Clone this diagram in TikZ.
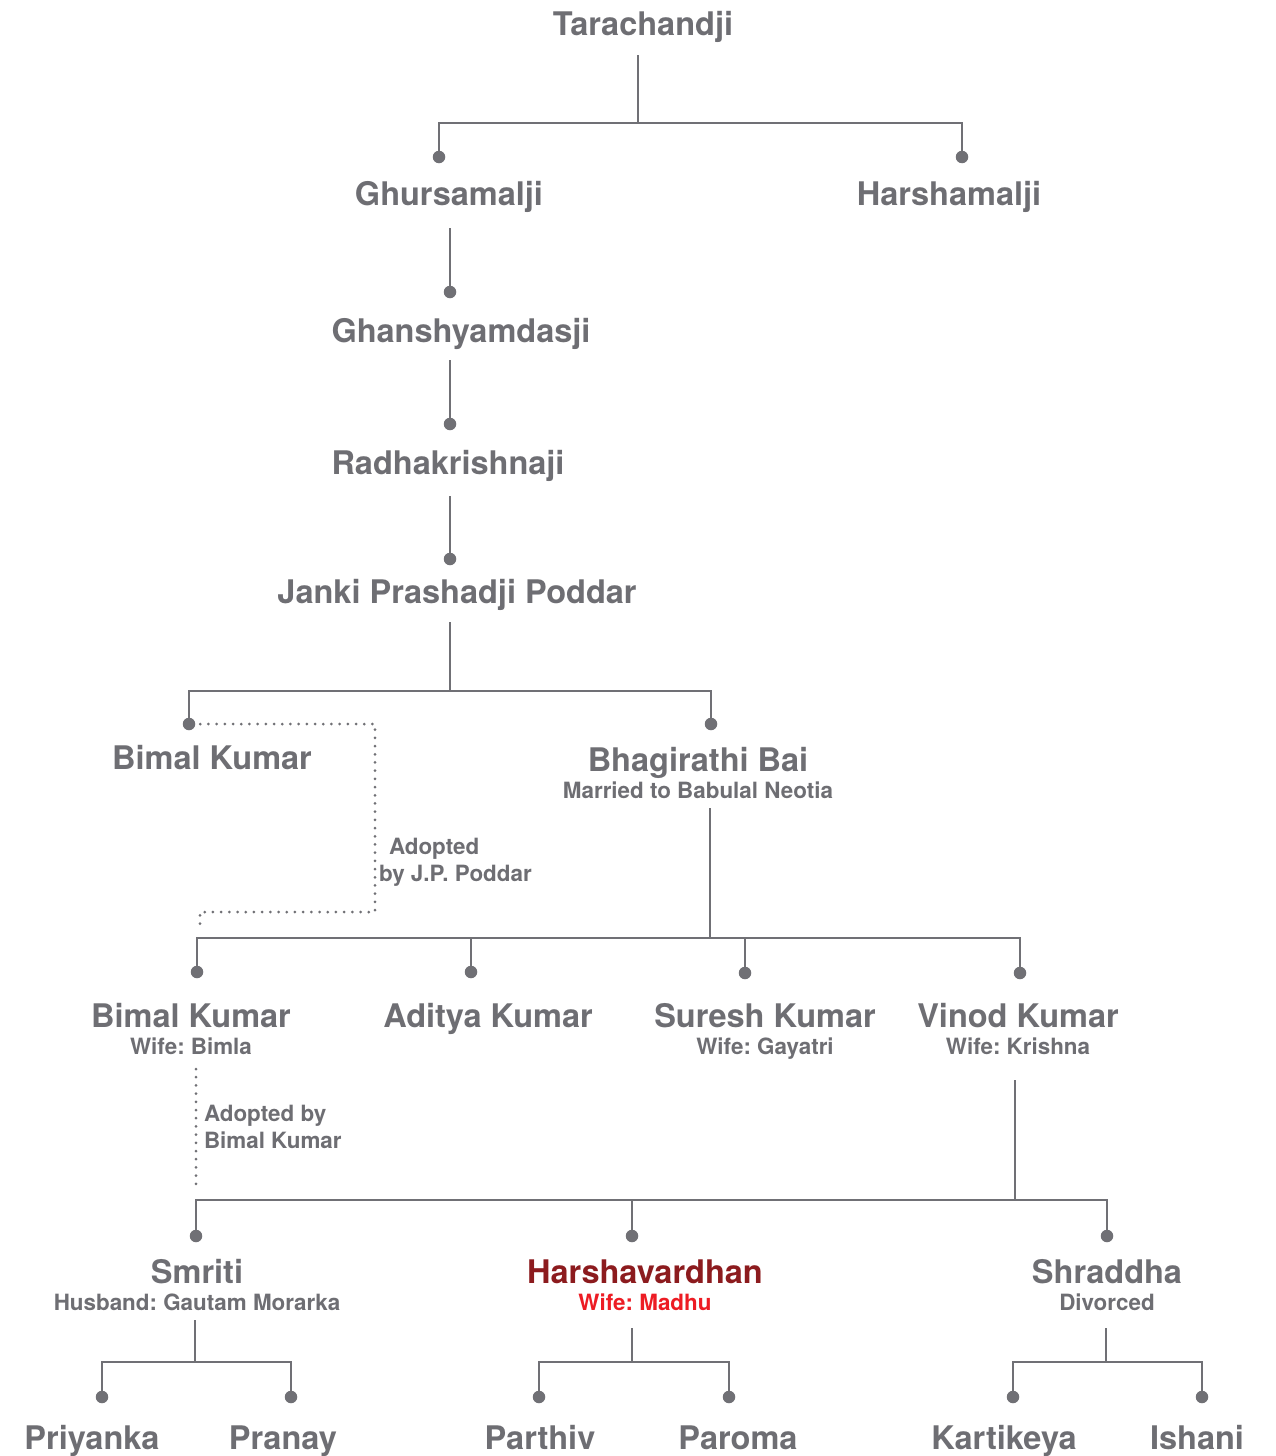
\documentclass[tikz,border=0pt]{standalone}
\usepackage{fontspec}
\setmainfont{TeX Gyre Heros}
\frenchspacing
\begin{document}
\begin{tikzpicture}[x=1pt,y=-1pt,
  every node/.style={inner sep=0pt, outer sep=0pt},
  nm/.style={font=\bfseries\fontsize{32.5}{38}\selectfont, text=tgrey, anchor=base},
  sub/.style={font=\bfseries\fontsize{22.4}{26}\selectfont, text=tgrey, anchor=base},
  note/.style={font=\bfseries\fontsize{22.4}{27}\selectfont, text=tgrey, anchor=north west, align=left},
  dotn/.style={circle, fill=lgrey, minimum size=12.5pt},
  conn/.style={draw=lgrey, line width=2.6pt},
  adopt/.style={draw=lgrey, line width=3pt, line cap=round, dash pattern=on 0pt off 8.2pt}
]
\definecolor{tgrey}{RGB}{110,110,115}
\definecolor{lgrey}{RGB}{112,112,117}
\definecolor{dred}{RGB}{140,27,30}
\definecolor{bred}{RGB}{237,28,36}
\useasboundingbox[fill=white] (0,0) rectangle (1275,1456);

% ---------- names ----------
\node[nm] (tara) at (643,35) {Tarachandji};
\node[nm] (ghur) at (449,205) {Ghursamalji};
\node[nm] (harsham) at (949,205) {Harshamalji};
\node[nm] (ghan) at (461,342) {Ghanshyamdasji};
\node[nm] (radha) at (448,474) {Radhakrishnaji};
\node[nm] (janki) at (457,603) {Janki Prashadji Poddar};
\node[nm] (bimal1) at (212,769) {Bimal Kumar};
\node[nm] (bhag) at (698,771) {Bhagirathi Bai};
\node[sub] (bhags) at (698,798) {Married to Babulal Neotia};
\node[nm] (bimal2) at (191,1027) {Bimal Kumar};
\node[sub] (bimal2s) at (191,1054) {Wife: Bimla};
\node[nm] (aditya) at (488,1027) {Aditya Kumar};
\node[nm] (suresh) at (765,1027) {Suresh Kumar};
\node[sub] (sureshs) at (765,1054) {Wife: Gayatri};
\node[nm] (vinod) at (1018,1027) {Vinod Kumar};
\node[sub] (vinods) at (1018,1054) {Wife: Krishna};
\node[nm] (smriti) at (197,1283) {Smriti};
\node[sub] (smritis) at (197,1310) {Husband: Gautam Morarka};
\node[nm, text=dred] (harsha) at (645,1283) {Harshavardhan};
\node[sub, text=bred] (harshas) at (645,1310) {Wife: Madhu};
\node[nm] (shra) at (1107,1283) {Shraddha};
\node[sub] (shras) at (1107,1310) {Divorced};
\node[nm] (priy) at (92,1449) {Priyanka};
\node[nm] (pran) at (283,1449) {Pranay};
\node[nm] (parth) at (540,1449) {Parthiv};
\node[nm] (parom) at (738,1449) {Paroma};
\node[nm] (karti) at (1004,1449) {Kartikeya};
\node[nm] (ishani) at (1197,1449) {Ishani};

% notes
\node[note] (note1) at (379,838) {\hspace{10pt}Adopted\\by J.P. Poddar};
\node[note] (note2) at (204,1105) {Adopted by\\Bimal Kumar};

% ---------- dots ----------
\node[dotn] (dghur) at (439,157) {};
\node[dotn] (dharsham) at (962,157) {};
\node[dotn] (dghan) at (450,292) {};
\node[dotn] (dradha) at (450,424) {};
\node[dotn] (djanki) at (450,559) {};
\node[dotn] (dbimal1) at (189,724) {};
\node[dotn] (dbhag) at (711,724) {};
\node[dotn] (dbimal2) at (197,972) {};
\node[dotn] (daditya) at (471,972) {};
\node[dotn] (dsuresh) at (745,973) {};
\node[dotn] (dvinod) at (1020,973) {};
\node[dotn] (dsmriti) at (196,1236) {};
\node[dotn] (dharsha) at (632,1236) {};
\node[dotn] (dshra) at (1107,1236) {};
\node[dotn] (dpriy) at (102,1397) {};
\node[dotn] (dpran) at (291,1397) {};
\node[dotn] (dparth) at (539,1397) {};
\node[dotn] (dparom) at (729,1397) {};
\node[dotn] (dkarti) at (1013,1397) {};
\node[dotn] (dishani) at (1202,1397) {};

% ---------- connector anchors ----------
\coordinate (taraS) at (638,55);
\coordinate (j1) at (638,123);
\coordinate (ghurS) at (450,228);
\coordinate (ghanS) at (450,360);
\coordinate (radhaS) at (450,496);
\coordinate (jankiS) at (450,622);
\coordinate (j2) at (450,691);
\coordinate (bhagS) at (710,808);
\coordinate (j3) at (710,938);
\coordinate (vinodS) at (1015,1080);
\coordinate (j4) at (1015,1200);
\coordinate (smritiS) at (195,1320);
\coordinate (j5) at (195,1362);
\coordinate (harshaS) at (632,1328);
\coordinate (j6) at (632,1362);
\coordinate (shraS) at (1106,1328);
\coordinate (j7) at (1106,1362);
\coordinate (a1) at (375,724);
\coordinate (a2) at (375,912);
\coordinate (a3) at (200,912);
\coordinate (a4) at (200,928);
\coordinate (b1) at (196,1069);
\coordinate (b2) at (196,1188);

% ---------- connectors ----------
\draw[conn] (taraS) -- (j1);
\draw[conn] (dghur) |- (j1) -| (dharsham);
\draw[conn] (ghurS) -- (dghan);
\draw[conn] (ghanS) -- (dradha);
\draw[conn] (radhaS) -- (djanki);
\draw[conn] (jankiS) -- (j2);
\draw[conn] (dbimal1) |- (j2) -| (dbhag);
\draw[conn] (bhagS) -- (j3);
\draw[conn] (dbimal2) |- (j3) -| (dvinod);
\draw[conn] (daditya) -- (daditya |- j3);
\draw[conn] (dsuresh) -- (dsuresh |- j3);
\draw[conn] (vinodS) -- (j4);
\draw[conn] (dsmriti) |- (j4) -| (dshra);
\draw[conn] (dharsha) -- (dharsha |- j4);
\draw[conn] (smritiS) -- (j5);
\draw[conn] (dpriy) |- (j5) -| (dpran);
\draw[conn] (harshaS) -- (j6);
\draw[conn] (dparth) |- (j6) -| (dparom);
\draw[conn] (shraS) -- (j7);
\draw[conn] (dkarti) |- (j7) -| (dishani);

\draw[adopt] (dbimal1.east) ++(5,0) -- (a1) -- (a2) -- (a3) -- (a4);
\draw[adopt] (b1) -- (b2);
\end{tikzpicture}
\end{document}
